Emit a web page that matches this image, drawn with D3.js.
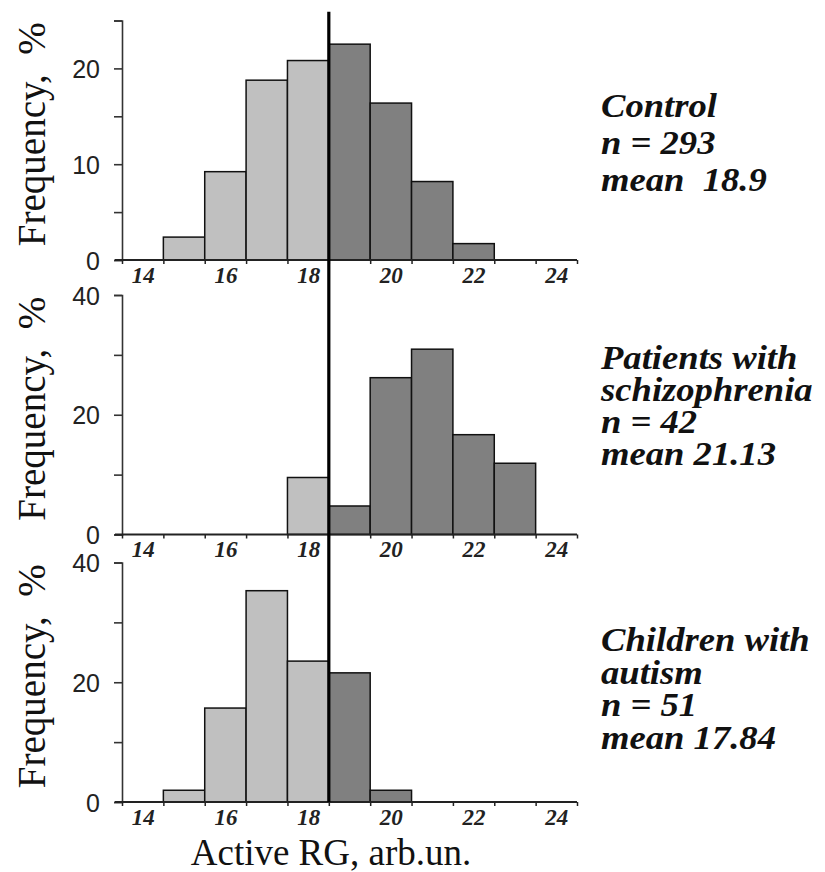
<!DOCTYPE html>
<html>
<head>
<meta charset="utf-8">
<script src="https://cdn.jsdelivr.net/npm/d3@7"></script>
<style>
  html, body { margin: 0; padding: 0; background: #fff; }
  svg { display: block; }
</style>
</head>
<body>
<svg id="chart" width="825" height="872"></svg>
<script>
// Active RG bins (arb. units) and percentage frequency per bin
const bins = [14, 15, 16, 17, 18, 19, 20, 21, 22, 23, 24];
const controlPct = [0, 2.39, 9.22, 18.77, 20.82, 22.53, 16.38, 8.19, 1.71, 0, 0];
const schizoPct  = [0, 0, 0, 0, 9.52, 4.76, 26.19, 30.95, 16.67, 11.90, 0];
const autismPct  = [0, 1.96, 15.69, 35.29, 23.53, 21.57, 1.96, 0, 0, 0, 0];

const xTickLabels = [14, 16, 18, 20, 22, 24];
const threshold = 18.5;

const controlNotes = ["Control", "n = 293", "mean  18.9"];
const schizoNotes  = ["Patients with", "schizophrenia", "n = 42", "mean 21.13"];
const autismNotes  = ["Children with", "autism", "n = 51", "mean 17.84"];

const yMaxTop = 25, yMaxOther = 40;
const yTicksTop = [0, 5, 10, 15, 20, 25];
const yTicksOther = [0, 10, 20, 30, 40];

const SERIF = '"Liberation Serif", "Times New Roman", serif';
const SANS = '"Liberation Sans", Arial, sans-serif';

const panels = [
  { values: controlPct, yMax: yMaxTop, ticks: yTicksTop, labelEvery: 10, top: 20.5, notes: controlNotes, noteY: 117, noteGap: 37 },
  { values: schizoPct, yMax: yMaxOther, ticks: yTicksOther, labelEvery: 20, top: 295, notes: schizoNotes, noteY: 369, noteGap: 32 },
  { values: autismPct, yMax: yMaxOther, ticks: yTicksOther, labelEvery: 20, top: 562.5, notes: autismNotes, noteY: 651, noteGap: 32.5 }
];

const svg = d3.select("#chart");
const panelH = 239.5;
const x = d3.scaleLinear().domain([13.5, 24.5]).range([122, 577]);
const edges = d3.range(13.5, 24.6, 1);

panels.forEach(p => {
  const y = d3.scaleLinear().domain([0, p.yMax]).range([p.top + panelH, p.top]);
  const g = svg.append("g");

  // histogram bars, light below the threshold, dark above
  g.selectAll("rect.bar")
    .data(bins.map((b, i) => ({ b, v: p.values[i] })).filter(d => d.v > 0))
    .join("rect")
    .attr("class", "bar")
    .attr("x", d => x(d.b - 0.5))
    .attr("width", d => x(d.b + 0.5) - x(d.b - 0.5))
    .attr("y", d => y(d.v))
    .attr("height", d => y(0) - y(d.v))
    .attr("fill", d => d.b < threshold ? "#c0c0c0" : "#808080")
    .attr("stroke", "#111")
    .attr("stroke-width", 1.5);

  // y axis
  const ya = g.append("g")
    .attr("transform", `translate(${x(13.5)},0)`)
    .call(d3.axisLeft(y).tickValues(p.ticks).tickSize(8).tickPadding(14)
      .tickFormat(d => d % p.labelEvery === 0 ? d : ""));
  ya.select(".domain").attr("stroke", "#333").attr("stroke-width", 1.6);
  ya.selectAll(".tick line").attr("stroke", "#333").attr("stroke-width", 1.6);
  ya.selectAll(".tick text")
    .attr("dy", "0.36em")
    .style("font-family", SANS).style("font-size", "25px").style("fill", "#222");

  // x axis: ticks at bin edges
  const xa = g.append("g")
    .attr("transform", `translate(0,${y(0)})`)
    .call(d3.axisBottom(x).tickValues(edges).tickSize(4).tickFormat(""));
  xa.select(".domain").remove();
  xa.selectAll(".tick line").attr("stroke", "#222").attr("stroke-width", 1.5);
  xa.append("line")
    .attr("x1", 115).attr("x2", x(24.5))
    .attr("stroke", "#222").attr("stroke-width", 1.8);

  // x labels at bin centres
  const xl = g.append("g")
    .attr("transform", `translate(0,${y(0)})`)
    .call(d3.axisBottom(x).tickValues(xTickLabels).tickSize(0).tickPadding(6));
  xl.select(".domain").remove();
  xl.selectAll(".tick text")
    .attr("dy", "0.72em")
    .style("font-family", SERIF).style("font-size", "23px")
    .style("font-weight", "bold").style("font-style", "italic").style("fill", "#222");

  // y title
  g.append("text")
    .attr("transform", `translate(45,${p.top + panelH / 2 - 6}) rotate(-90)`)
    .attr("text-anchor", "middle")
    .style("font-family", SERIF).style("font-size", "39px").style("fill", "#111")
    .style("white-space", "pre")
    .text("Frequency,  %");

  // group annotations (slightly widened type)
  g.selectAll("text.note")
    .data(p.notes)
    .join("text")
    .attr("class", "note")
    .attr("transform", (d, i) => `translate(601,${p.noteY + i * p.noteGap}) scale(1.11,1)`)
    .style("font-family", SERIF).style("font-size", "33px")
    .style("font-weight", "bold").style("font-style", "italic").style("fill", "#111")
    .style("white-space", "pre")
    .text(d => d);
});

// threshold line across all panels
svg.append("line")
  .attr("x1", x(threshold)).attr("x2", x(threshold))
  .attr("y1", 11.7).attr("y2", 802)
  .attr("stroke", "#000").attr("stroke-width", 3.2);

// x axis title
svg.append("text")
  .attr("x", 331).attr("y", 865)
  .attr("text-anchor", "middle")
  .style("font-family", SERIF).style("font-size", "37px").style("fill", "#111")
  .text("Active RG, arb.un.");
</script>
</body>
</html>
